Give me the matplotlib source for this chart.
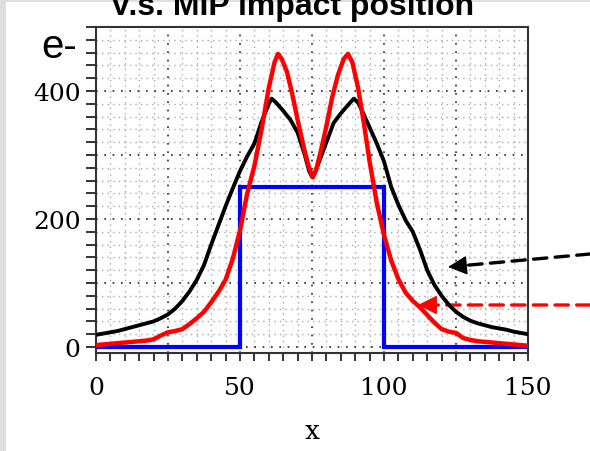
import matplotlib
matplotlib.use("Agg")
import matplotlib.pyplot as plt
from matplotlib.ticker import MultipleLocator, FuncFormatter
from matplotlib.patches import Rectangle

# ---- data ----
x_blue = [0, 50, 50, 100, 100, 150]
y_blue = [0, 0, 250, 250, 0, 0]

x_black = [0, 2.5, 5, 7.5, 10, 12.5, 15, 17.5, 20, 22.5, 25, 27.5, 30, 32.5, 35,
           37.5, 40, 42.5, 45, 47.5, 50, 52.5, 55, 57.5, 60, 61, 62.5, 65, 67.5,
           70, 72.5, 74, 75, 76, 77.5, 80, 82.5, 85, 87.5, 89.5, 91, 92.5, 95,
           97.5, 100, 102.5, 105, 107.5, 110, 112.5, 115, 117.5, 120, 122.5, 125,
           127.5, 130, 132.5, 135, 137.5, 140, 142.5, 145, 147.5, 150]
y_black = [19, 21, 23, 25, 28, 31, 34, 37, 40, 45, 51, 60, 72, 87, 105,
           128, 160, 190, 220, 248, 275, 298, 318, 352, 380, 388, 382, 369, 355,
           335, 300, 275, 266, 272, 290, 320, 350, 365, 378, 388, 382, 368, 343,
           318, 290, 250, 222, 198, 180, 152, 120, 97, 80, 66, 55,
           47, 41, 37, 34, 31, 29, 27, 24, 22, 20]

x_red = [0, 5, 10, 12.5, 15, 17.5, 20, 22.5, 25, 27.5, 30, 32.5, 35, 37.5, 40,
         42.5, 45, 47.5, 50, 52.5, 55, 57.5, 60, 62, 63.2, 64.5, 66.3, 68, 70,
         72.5, 74, 75.3, 76.5, 78, 80, 82, 84, 86, 87.5, 89, 91, 93, 95, 97.5,
         100, 102.5, 105, 107.5, 110, 112.5, 115, 117.5, 120, 122.5, 125, 127.5,
         130, 132.5, 135, 140, 145, 150]
y_red = [3, 5, 7, 8, 9, 10, 12, 18, 23, 25, 28, 36, 45, 55, 70,
         86, 105, 138, 182, 240, 283, 340, 405, 445, 458, 450, 430, 398, 355,
         305, 280, 265, 278, 305, 345, 390, 425, 450, 458, 445, 405, 350, 290, 225,
         175, 135, 106, 85, 72, 62, 50, 38, 28, 24, 22, 14,
         11, 9, 8, 6, 4, 2]

x_tick_labels = {0: "0", 50: "50", 100: "100", 150: "150"}
y_tick_labels = {0: "0", 200: "200", 400: "400"}

W, H = 590, 452
fig = plt.figure(figsize=(W / 100, H / 100), dpi=100, facecolor="white")

# grey frame strips (left & top)
fig.patches.append(Rectangle((0, 0), 6 / W, 1, transform=fig.transFigure,
                             facecolor="#dedede", edgecolor="none", zorder=0))
fig.patches.append(Rectangle((0, 1 - 3 / H), 1, 3 / H, transform=fig.transFigure,
                             facecolor="#dedede", edgecolor="none", zorder=0))

ax = fig.add_axes([96 / W, 1 - 354.4 / H, 432 / W, 326.4 / H])
ax.set_xlim(0, 150)
ax.set_ylim(-10, 500)

ax.xaxis.set_major_locator(MultipleLocator(25))
ax.xaxis.set_minor_locator(MultipleLocator(5))
ax.yaxis.set_major_locator(MultipleLocator(100))
ax.yaxis.set_minor_locator(MultipleLocator(20))
ax.xaxis.set_major_formatter(FuncFormatter(lambda v, p: x_tick_labels.get(int(round(v)), "") if abs(v - round(v)) < 1e-6 else ""))
ax.yaxis.set_major_formatter(FuncFormatter(lambda v, p: y_tick_labels.get(int(round(v)), "") if abs(v - round(v)) < 1e-6 else ""))

ax.grid(which="major", color="#222222", linestyle=(0, (1, 4)), linewidth=1.2)
ax.grid(which="minor", color="#a8a8a8", linestyle=(0, (1, 3)), linewidth=1.0)
ax.set_axisbelow(True)

ax.tick_params(which="both", direction="out", top=False, right=False,
               color="#333333", width=1.4)
ax.tick_params(axis="y", which="both", length=7, pad=4)
ax.tick_params(axis="x", which="both", length=6, pad=10)
for lab in ax.get_xticklabels() + ax.get_yticklabels():
    lab.set_fontfamily("DejaVu Serif")
    lab.set_fontsize(18)
for s in ax.spines.values():
    s.set_color("#333333")
    s.set_linewidth(1.5)

ax.plot(x_blue, y_blue, color="#0000ff", linewidth=3.0, solid_joinstyle="miter", zorder=3)
ax.plot(x_black, y_black, color="black", linewidth=2.8, zorder=4)
ax.plot(x_red, y_red, color="#ff0000", linewidth=3.2, zorder=5)

ax.set_xlabel("x", fontfamily="DejaVu Serif", fontsize=19, labelpad=14)

# "e-" unit label
fig.text(59 / W, 1 - 47 / H, "e-", fontfamily="Liberation Sans", fontsize=29,
         ha="center", va="center")

# Title (cut off at top, as in the original)
fig.text(292 / W, 1 - 15 / H, "V.s. MIP impact position", fontfamily="Liberation Sans",
         fontweight="bold", fontsize=23, ha="center", va="baseline")

# dashed arrows from the right edge
def dashed_arrow(tip, tail, color):
    ax.annotate("", xy=tip, xycoords="figure pixels", xytext=tail,
                textcoords="figure pixels",
                arrowprops=dict(arrowstyle="-", color=color, lw=2.4,
                                linestyle=(0, (4, 2.5)), shrinkA=0, shrinkB=10),
                annotation_clip=False)
    dx, dy = tip[0] - tail[0], tip[1] - tail[1]
    n = (dx ** 2 + dy ** 2) ** 0.5
    start = (tip[0] - 20 * dx / n, tip[1] - 20 * dy / n)
    ax.annotate("", xy=tip, xycoords="figure pixels", xytext=start,
                textcoords="figure pixels",
                arrowprops=dict(arrowstyle="-|>,head_length=1.2,head_width=0.6",
                                color=color, lw=1.0, shrinkA=0, shrinkB=0),
                annotation_clip=False)

dashed_arrow((448, H - 268), (590, H - 255), "black")
dashed_arrow((418, H - 306), (590, H - 306), "#ff0000")

fig.savefig("out.png", dpi=100, facecolor="white")
